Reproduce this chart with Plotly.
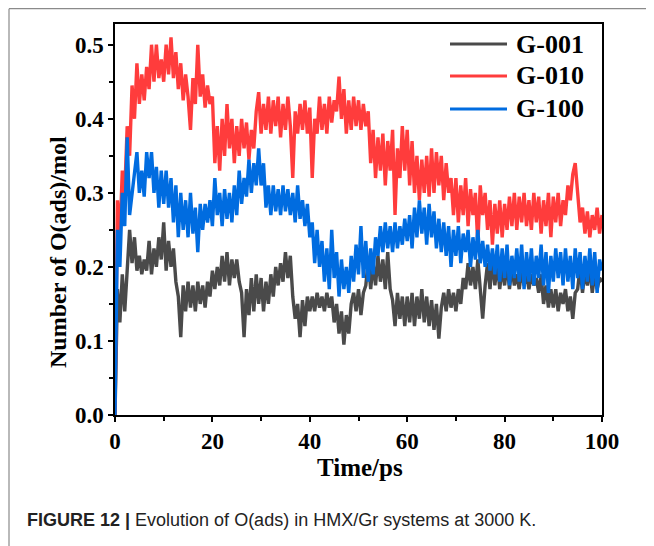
import numpy as np
import plotly.graph_objects as go

# time axis (ps), sampled every 0.5 ps
time_ps = [i * 0.5 for i in range(201)]

g001 = [
    0.000, 0.170, 0.125, 0.190, 0.140, 0.195, 0.250, 0.205, 0.240, 0.195,
    0.215, 0.190, 0.210, 0.195, 0.235, 0.190, 0.225, 0.200, 0.240, 0.210,
    0.260, 0.195, 0.235, 0.200, 0.225, 0.180, 0.160, 0.105, 0.175, 0.140,
    0.180, 0.145, 0.175, 0.140, 0.180, 0.150, 0.175, 0.145, 0.180, 0.160,
    0.195, 0.170, 0.200, 0.175, 0.215, 0.180, 0.220, 0.175, 0.210, 0.185,
    0.210, 0.180, 0.165, 0.105, 0.170, 0.135, 0.185, 0.140, 0.190, 0.150,
    0.185, 0.140, 0.180, 0.150, 0.190, 0.160, 0.200, 0.175, 0.205, 0.180,
    0.220, 0.185, 0.215, 0.160, 0.130, 0.150, 0.105, 0.155, 0.120, 0.160,
    0.140, 0.160, 0.140, 0.165, 0.145, 0.160, 0.140, 0.165, 0.145, 0.160,
    0.125, 0.150, 0.110, 0.140, 0.095, 0.135, 0.110, 0.150, 0.165, 0.140,
    0.170, 0.135, 0.165, 0.175, 0.210, 0.170, 0.205, 0.175, 0.215, 0.180,
    0.210, 0.170, 0.220, 0.170, 0.155, 0.120, 0.165, 0.130, 0.160, 0.120,
    0.160, 0.125, 0.165, 0.120, 0.160, 0.130, 0.170, 0.125, 0.160, 0.120,
    0.155, 0.115, 0.150, 0.103, 0.145, 0.165, 0.140, 0.170, 0.145, 0.165,
    0.140, 0.170, 0.150, 0.185, 0.170, 0.205, 0.175, 0.200, 0.170, 0.210,
    0.165, 0.130, 0.175, 0.205, 0.170, 0.210, 0.175, 0.205, 0.170, 0.200,
    0.175, 0.205, 0.170, 0.200, 0.175, 0.190, 0.170, 0.195, 0.175, 0.190,
    0.170, 0.190, 0.175, 0.185, 0.165, 0.190, 0.150, 0.175, 0.145, 0.170,
    0.145, 0.170, 0.140, 0.165, 0.150, 0.170, 0.140, 0.160, 0.130, 0.165,
    0.170, 0.200, 0.165, 0.195, 0.175, 0.200, 0.165, 0.190, 0.170, 0.185,
    0.180,
]

g010 = [
    0.000, 0.290, 0.240, 0.330, 0.300, 0.390, 0.350, 0.445, 0.400, 0.475,
    0.420, 0.460, 0.425, 0.470, 0.440, 0.500, 0.450, 0.500, 0.455, 0.480,
    0.450, 0.500, 0.460, 0.510, 0.455, 0.490, 0.440, 0.475, 0.425, 0.460,
    0.430, 0.385, 0.455, 0.420, 0.500, 0.430, 0.460, 0.415, 0.445, 0.420,
    0.430, 0.340, 0.390, 0.330, 0.400, 0.350, 0.420, 0.360, 0.400, 0.340,
    0.390, 0.350, 0.400, 0.360, 0.395, 0.345, 0.385, 0.360, 0.410, 0.436,
    0.380, 0.420, 0.385, 0.430, 0.380, 0.425, 0.390, 0.430, 0.375, 0.420,
    0.385, 0.430, 0.390, 0.320, 0.410, 0.380, 0.420, 0.385, 0.425, 0.380,
    0.415, 0.320, 0.400, 0.380, 0.430, 0.385, 0.420, 0.380, 0.430, 0.395,
    0.425, 0.410, 0.457, 0.400, 0.440, 0.380, 0.425, 0.385, 0.430, 0.390,
    0.425, 0.385, 0.420, 0.390, 0.410, 0.340, 0.385, 0.320, 0.375, 0.330,
    0.380, 0.310, 0.370, 0.330, 0.385, 0.270, 0.360, 0.320, 0.390, 0.330,
    0.385, 0.310, 0.370, 0.300, 0.350, 0.290, 0.345, 0.300, 0.350, 0.295,
    0.360, 0.300, 0.355, 0.310, 0.350, 0.290, 0.340, 0.300, 0.320, 0.270,
    0.320, 0.260, 0.310, 0.270, 0.320, 0.255, 0.305, 0.270, 0.300, 0.230,
    0.310, 0.270, 0.300, 0.250, 0.290, 0.230, 0.285, 0.245, 0.290, 0.240,
    0.285, 0.250, 0.295, 0.255, 0.300, 0.250, 0.295, 0.260, 0.300, 0.255,
    0.290, 0.250, 0.300, 0.260, 0.295, 0.245, 0.290, 0.255, 0.300, 0.240,
    0.295, 0.260, 0.300, 0.255, 0.290, 0.270, 0.310, 0.290, 0.325, 0.340,
    0.300, 0.260, 0.280, 0.245, 0.275, 0.240, 0.270, 0.250, 0.280, 0.245,
    0.270,
]

g100 = [
    0.000, 0.250, 0.200, 0.300, 0.255, 0.375, 0.270, 0.300, 0.325, 0.355,
    0.300, 0.330, 0.295, 0.355, 0.320, 0.355, 0.300, 0.335, 0.280, 0.330,
    0.285, 0.330, 0.280, 0.320, 0.260, 0.310, 0.240, 0.300, 0.250, 0.290,
    0.240, 0.300, 0.245, 0.280, 0.220, 0.285, 0.250, 0.285, 0.260, 0.290,
    0.255, 0.320, 0.270, 0.300, 0.255, 0.305, 0.265, 0.300, 0.260, 0.310,
    0.270, 0.330, 0.285, 0.320, 0.295, 0.345, 0.300, 0.340, 0.310, 0.360,
    0.310, 0.340, 0.280, 0.310, 0.270, 0.310, 0.275, 0.305, 0.270, 0.310,
    0.275, 0.305, 0.270, 0.300, 0.260, 0.310, 0.265, 0.290, 0.255, 0.285,
    0.240, 0.260, 0.205, 0.250, 0.200, 0.235, 0.180, 0.225, 0.170, 0.250,
    0.185, 0.220, 0.160, 0.210, 0.170, 0.200, 0.165, 0.215, 0.180, 0.230,
    0.190, 0.255, 0.185, 0.235, 0.180, 0.225, 0.190, 0.240, 0.215, 0.255,
    0.220, 0.260, 0.225, 0.255, 0.220, 0.260, 0.225, 0.255, 0.230, 0.265,
    0.235, 0.270, 0.225, 0.280, 0.240, 0.290, 0.245, 0.280, 0.230, 0.285,
    0.240, 0.275, 0.225, 0.265, 0.220, 0.260, 0.215, 0.255, 0.200, 0.250,
    0.215, 0.255, 0.205, 0.245, 0.220, 0.250, 0.200, 0.240, 0.210, 0.250,
    0.205, 0.235, 0.200, 0.230, 0.195, 0.225, 0.190, 0.230, 0.180, 0.225,
    0.185, 0.230, 0.175, 0.215, 0.185, 0.225, 0.180, 0.230, 0.170, 0.220,
    0.180, 0.225, 0.175, 0.215, 0.185, 0.230, 0.175, 0.220, 0.165, 0.215,
    0.180, 0.225, 0.185, 0.220, 0.175, 0.225, 0.180, 0.215, 0.170, 0.225,
    0.185, 0.220, 0.170, 0.215, 0.180, 0.225, 0.175, 0.220, 0.165, 0.210,
    0.195,
]

series_names = ["G-001", "G-010", "G-100"]
series_colors = ["#4a4a4a", "#ff3c3c", "#006ce0"]
x_ticks = [0, 20, 40, 60, 80, 100]
y_ticks = [0.0, 0.1, 0.2, 0.3, 0.4, 0.5]
y_tick_labels = ["0.0", "0.1", "0.2", "0.3", "0.4", "0.5"]

SERIF = "Liberation Serif"
SANS = "Liberation Sans"

fig = go.Figure()
for name, vals, col in zip(series_names, [g001, g010, g100], series_colors):
    fig.add_trace(go.Scatter(
        x=time_ps, y=vals, mode="lines", name=name,
        line=dict(color=col, width=3.4),
        showlegend=False,
    ))

axis_common = dict(
    showline=True, linecolor="black", linewidth=1.5, mirror=True,
    ticks="outside", ticklen=5, tickwidth=1.5, tickcolor="black",
    showgrid=False, zeroline=False,
    tickfont=dict(family=SERIF, size=23, color="black", weight="bold"),
)

fig.update_xaxes(
    range=[0, 100], tickvals=x_ticks,
    minor=dict(dtick=10, ticks="outside", ticklen=4, tickwidth=1.5, tickcolor="black"),
    **axis_common,
)
fig.update_yaxes(
    range=[0, 0.528], tickvals=y_ticks, ticktext=y_tick_labels,
    minor=dict(dtick=0.05, ticks="outside", ticklen=4, tickwidth=1.5, tickcolor="black"),
    **axis_common,
)

# positions relative to plot area (page pixels -> paper fraction)
def px_x(px):
    return (px - 115) / 487.0

def px_y(py):
    return (415 - py) / 391.0

annotations = [
    dict(text="<b>Time/ps</b>", x=px_x(360), y=px_y(467), xref="paper", yref="paper",
         xanchor="center", yanchor="middle", showarrow=False,
         font=dict(family=SERIF, size=25, color="black")),
    dict(text="<b>Number of O(ads)/mol</b>", x=px_x(58), y=px_y(252), xref="paper", yref="paper",
         xanchor="center", yanchor="middle", showarrow=False, textangle=-90,
         font=dict(family=SERIF, size=24, color="black")),
    dict(text="<b>FIGURE 12 |</b> Evolution of O(ads) in HMX/Gr systems at 3000 K.",
         x=px_x(25), y=px_y(520), xref="paper", yref="paper",
         xanchor="left", yanchor="middle", showarrow=False,
         font=dict(family=SANS, size=18, color="#222222")),
]

shapes = [
    dict(type="line", xref="paper", yref="paper", x0=px_x(9), x1=px_x(670), y0=px_y(8.7), y1=px_y(8.7),
         line=dict(color="#8a8a8a", width=1.2)),
    dict(type="line", xref="paper", yref="paper", x0=px_x(9), x1=px_x(9), y0=px_y(8.7), y1=px_y(560),
         line=dict(color="#8a8a8a", width=1.2)),
]

legend_rows_py = [44, 76, 109]
for name, col, py in zip(series_names, series_colors, legend_rows_py):
    shapes.append(dict(type="line", xref="paper", yref="paper",
                       x0=px_x(450), x1=px_x(507), y0=px_y(py), y1=px_y(py),
                       line=dict(color=col, width=3)))
    annotations.append(dict(text="<b>%s</b>" % name, x=px_x(514), y=px_y(py),
                            xref="paper", yref="paper", xanchor="left", yanchor="middle",
                            showarrow=False, font=dict(family=SERIF, size=26, color="black")))

# page is offset by the 8px body margin, so margins are shifted accordingly
fig.update_layout(
    width=654, height=546,
    margin=dict(l=107, r=60, t=16, b=139),
    paper_bgcolor="white", plot_bgcolor="white",
    annotations=annotations, shapes=shapes,
    showlegend=False,
)

fig.write_html("out.html")
